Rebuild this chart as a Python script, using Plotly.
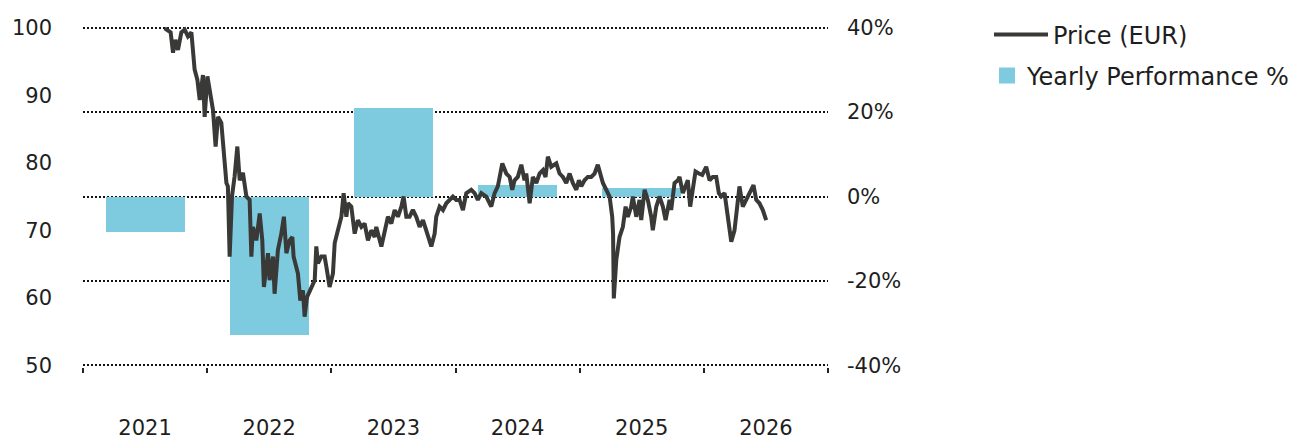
import plotly.graph_objects as go

# yearly performance bars (right axis, %)
years = [2021, 2022, 2023, 2024, 2025]
yearly_perf = [-8.3, -32.8, 20.9, 2.7, 2.1]

# price series (left axis, EUR) -- time as fractional year
price_t = [
    2021.158, 2021.206, 2021.225, 2021.244, 2021.265, 2021.292, 2021.319, 2021.345,
    2021.373, 2021.399, 2021.421, 2021.440, 2021.466, 2021.480, 2021.502, 2021.520,
    2021.547, 2021.568, 2021.587, 2021.614, 2021.627, 2021.641, 2021.655, 2021.667,
    2021.681, 2021.700, 2021.721, 2021.743, 2021.762, 2021.788, 2021.816, 2021.842,
    2021.856, 2021.869, 2021.896, 2021.923, 2021.944, 2021.957, 2021.990, 2022.003,
    2022.030, 2022.043, 2022.070, 2022.097, 2022.118, 2022.138, 2022.164, 2022.186,
    2022.196, 2022.231, 2022.250, 2022.271, 2022.285, 2022.304, 2022.339, 2022.366,
    2022.379, 2022.392, 2022.419, 2022.446, 2022.460, 2022.486, 2022.513, 2022.527,
    2022.553, 2022.581, 2022.599, 2022.621, 2022.634, 2022.661, 2022.688, 2022.714,
    2022.742, 2022.768, 2022.795, 2022.822, 2022.849, 2022.862, 2022.903, 2022.929,
    2022.956, 2022.983, 2023.010, 2023.036, 2023.064, 2023.082, 2023.104, 2023.130,
    2023.157, 2023.184, 2023.211, 2023.238, 2023.265, 2023.291, 2023.305, 2023.332,
    2023.345, 2023.372, 2023.399, 2023.426, 2023.452, 2023.479, 2023.506, 2023.533,
    2023.560, 2023.587, 2023.627, 2023.654, 2023.680, 2023.708, 2023.748, 2023.788,
    2023.815, 2023.841, 2023.877, 2023.909, 2023.936, 2023.957, 2023.976, 2024.002,
    2024.030, 2024.056, 2024.070, 2024.097, 2024.123, 2024.151, 2024.177, 2024.204,
    2024.225, 2024.244, 2024.271, 2024.312, 2024.338, 2024.365, 2024.392, 2024.419,
    2024.445, 2024.473, 2024.494, 2024.513, 2024.539, 2024.566, 2024.593, 2024.620,
    2024.646, 2024.674, 2024.687, 2024.714, 2024.741, 2024.762, 2024.769, 2024.775,
    2024.795, 2024.821, 2024.848, 2024.870, 2024.888, 2024.915, 2024.928, 2024.956,
    2024.982, 2024.996, 2025.023, 2025.049, 2025.076, 2025.089, 2025.117, 2025.143,
    2025.170, 2025.192, 2025.224, 2025.237, 2025.264, 2025.291, 2025.304, 2025.331,
    2025.358, 2025.371, 2025.390, 2025.411, 2025.433, 2025.460, 2025.487, 2025.519,
    2025.546, 2025.572, 2025.600, 2025.621, 2025.640, 2025.667, 2025.693, 2025.721,
    2025.747, 2025.766, 2025.787, 2025.814, 2025.841, 2025.868, 2025.900, 2025.922,
    2025.948, 2025.975, 2026.002,
]
price_eur = [
    99.9, 99.3, 96.3, 98.2, 96.7, 99.3, 99.7, 98.7,
    99.3, 93.8, 92.3, 89.3, 93.0, 86.8, 92.8, 90.8,
    87.8, 82.4, 86.8, 85.9, 83.4, 80.0, 77.0, 76.5,
    66.1, 75.0, 78.0, 82.4, 77.4, 78.5, 75.0, 74.5,
    66.1, 70.5, 68.5, 72.5, 68.5, 61.6, 66.6, 62.6,
    66.1, 60.6, 67.1, 69.5, 72.0, 66.6, 68.5, 69.0,
    66.1, 63.6, 59.6, 61.1, 57.2, 60.1, 61.6, 62.6,
    67.6, 65.1, 66.1, 66.1, 64.6, 61.6, 63.6, 68.1,
    70.0, 72.0, 75.5, 72.0, 74.0, 73.5, 69.5, 71.5,
    70.5, 71.0, 68.5, 70.0, 69.0, 70.5, 67.6, 69.5,
    72.0, 71.0, 73.0, 72.0, 73.5, 75.0, 72.0, 72.0,
    73.0, 72.0, 70.5, 71.5, 70.0, 68.5, 67.6, 69.5,
    72.0, 73.5, 73.0, 74.0, 74.5, 75.0, 74.5, 74.5,
    73.0, 75.5, 76.0, 75.5, 74.5, 75.5, 75.0, 73.5,
    75.5, 76.5, 79.9, 78.4, 77.9, 76.0, 77.4, 77.9,
    79.7, 77.4, 78.4, 74.0, 77.9, 77.0, 78.4, 78.9,
    77.9, 80.9, 79.4, 79.9, 78.4, 77.9, 77.0, 78.4,
    77.0, 76.0, 77.4, 76.5, 77.4, 77.9, 77.9, 78.4,
    79.7, 77.9, 77.0, 76.0, 75.0, 72.0, 69.5, 59.9,
    65.6, 69.0, 70.5, 73.5, 72.0, 73.5, 75.0, 72.0,
    74.5, 71.5, 76.0, 74.5, 72.0, 70.0, 73.5, 75.0,
    73.5, 71.5, 74.5, 73.0, 77.0, 77.4, 77.9, 75.5,
    77.0, 77.4, 73.5, 76.0, 78.7, 78.4, 78.2, 79.4,
    77.4, 77.9, 77.9, 75.5, 75.0, 75.5, 72.0, 68.3,
    70.0, 73.5, 76.5, 73.5, 74.5, 75.5, 76.7, 74.5,
    74.0, 73.0, 71.5,
]

year_labels = ["2021", "2022", "2023", "2024", "2025", "2026"]
year_ticks = [2021, 2022, 2023, 2024, 2025, 2026]
boundary_ticks = [2020.5, 2021.5, 2022.5, 2023.5, 2024.5, 2025.5, 2026.5]
price_ticks = [50, 60, 70, 80, 90, 100]
perf_ticks = [-40, -20, 0, 20, 40]
perf_labels = ["-40%", "-20%", "0%", "20%", "40%"]

LINE_COLOR = "#393a37"
BAR_COLOR = "#7ecbe0"
TEXT_COLOR = "#1e1e1e"
FONT = "DejaVu Sans"

# small padding so the edge gridlines (±40 %) are still drawn
PAD_PCT = 0.4
PAD_PRICE = PAD_PCT / 80 * 50

fig = go.Figure()

fig.add_trace(
    go.Bar(
        x=years,
        y=yearly_perf,
        width=0.636,
        marker=dict(color=BAR_COLOR, line=dict(width=0)),
        yaxis="y",
        showlegend=False,
        name="Yearly Performance %",
    )
)
# legend-only entry with a larger square swatch
fig.add_trace(
    go.Scatter(
        x=[None],
        y=[None],
        mode="markers",
        marker=dict(symbol="square", size=16, color=BAR_COLOR),
        name="Yearly Performance %",
        yaxis="y",
        legend="legend2",
    )
)
fig.add_trace(
    go.Scatter(
        x=price_t,
        y=price_eur,
        mode="lines",
        line=dict(color=LINE_COLOR, width=4),
        name="Price (EUR)",
        yaxis="y2",
        legend="legend",
    )
)

fig.update_layout(
    width=1308,
    height=440,
    margin=dict(l=75.3, r=487.7, t=18.3, b=81.3),
    paper_bgcolor="white",
    plot_bgcolor="white",
    font=dict(family=FONT, size=21, color=TEXT_COLOR),
    bargap=0,
    xaxis=dict(
        range=[2020.5, 2026.5],
        tickvals=year_ticks,
        ticktext=year_labels,
        ticks="",
        showgrid=False,
        zeroline=False,
        showline=False,
        automargin=False,
        ticklabelstandoff=46,
        minor=dict(
            tickvals=boundary_ticks,
            ticks="outside",
            ticklen=5,
            tickwidth=1.5,
            tickcolor="#222",
            showgrid=False,
        ),
    ),
    yaxis=dict(
        range=[-40 - PAD_PCT, 40 + PAD_PCT],
        side="right",
        tickvals=perf_ticks,
        ticktext=perf_labels,
        ticks="",
        showgrid=True,
        gridcolor="#111",
        gridwidth=2,
        griddash="2px,2px",
        zeroline=False,
        showline=False,
        automargin=False,
        ticklabelstandoff=18,
    ),
    yaxis2=dict(
        range=[50 - PAD_PRICE, 100 + PAD_PRICE],
        overlaying="y",
        side="left",
        tickvals=price_ticks,
        ticks="",
        showgrid=False,
        zeroline=False,
        showline=False,
        automargin=False,
        ticklabelstandoff=30,
    ),
    legend=dict(
        xref="container",
        yref="container",
        x=981 / 1308,
        y=1 - 27 / 440,
        xanchor="left",
        yanchor="middle",
        itemwidth=54,
        font=dict(size=24),
        bgcolor="rgba(0,0,0,0)",
    ),
    legend2=dict(
        xref="container",
        yref="container",
        x=979 / 1308,
        y=1 - 68 / 440,
        xanchor="left",
        yanchor="middle",
        itemwidth=30,
        font=dict(size=24),
        bgcolor="rgba(0,0,0,0)",
    ),
)

fig.write_html("out.html")
